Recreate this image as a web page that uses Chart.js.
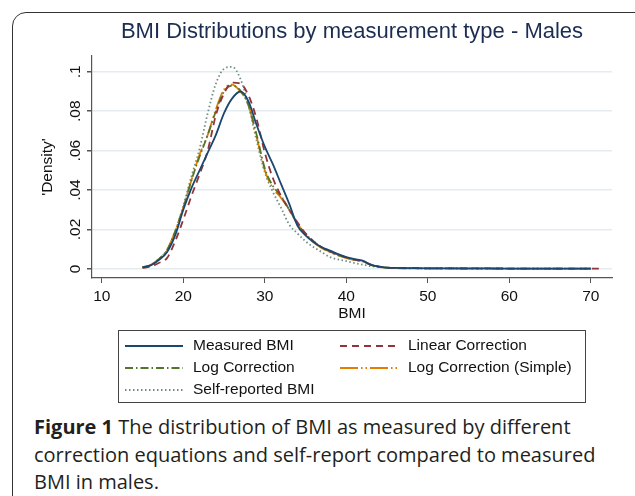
<!DOCTYPE html>
<html>
<head>
<meta charset="utf-8">
<script src="https://cdn.jsdelivr.net/npm/chart.js@4.4.1/dist/chart.umd.min.js"></script>
<style>
  html, body { margin: 0; padding: 0; background: #fff; }
  body { width: 635px; height: 496px; position: relative; overflow: hidden; }
  .frame { position: absolute; left: 12px; top: 12px; width: 700px; height: 600px; border: 1.5px solid #333; border-radius: 14px; }
  #chart { position: absolute; left: 0; top: 0; }
  .caption { position: absolute; left: 34px; top: 413px; white-space: nowrap; font-family: 'Open Sans', sans-serif; font-size: 20px; font-weight: 500; line-height: 27.5px; color: #231f20; }
  .caption b { font-weight: 700; }
</style>
</head>
<body>
<div class="frame"></div>
<canvas id="chart" width="635" height="410"></canvas>
<div class="caption"><b>Figure 1</b> The distribution of BMI as measured by different<br>correction equations and self-report compared to measured<br>BMI in males.</div>
<script>
// BMI grid the densities were read at
const bmi = [15, 16, 17, 18, 19, 20, 21, 22, 23, 24, 25, 26, 27, 28, 29, 30, 31, 32, 33, 34, 35, 36, 37, 38, 39, 40,
             41, 42, 43, 44, 45, 46, 48, 50, 55, 60, 65, 70, 71];

const measuredBMI = [0.0008, 0.0018, 0.0045, 0.0085, 0.017, 0.030, 0.041, 0.050, 0.059, 0.068, 0.079, 0.0865, 0.090, 0.085, 0.073, 0.062,
                     0.053, 0.043, 0.033, 0.022, 0.017, 0.0135, 0.011, 0.0093, 0.0075, 0.006, 0.005, 0.0042, 0.0022, 0.0012, 0.0007, 0.0005,
                     0.0004, 0.0003, 0.0003, 0.0002, 0.0002, 0.0002, null];
const linearCorr = [0.0005, 0.0012, 0.003, 0.0055, 0.014, 0.025, 0.037, 0.048, 0.060, 0.078, 0.089, 0.0945, 0.094, 0.088, 0.076, 0.059,
                    0.046, 0.037, 0.030, 0.0237, 0.018, 0.014, 0.011, 0.0088, 0.0072, 0.0058, 0.0048, 0.004, 0.0022, 0.0012, 0.0007, 0.0005,
                    0.0004, 0.0003, 0.0003, 0.0002, 0.0002, 0.0002, 0.0002];
const logCorr = [0.0008, 0.002, 0.005, 0.0095, 0.019, 0.031, 0.045, 0.057, 0.068, 0.080, 0.090, 0.093, 0.0905, 0.083, 0.068, 0.051,
                 0.042, 0.037, 0.030, 0.023, 0.0178, 0.0138, 0.0108, 0.0087, 0.007, 0.0057, 0.0046, 0.0039, 0.0021, 0.0011, 0.0006, 0.0004,
                 0.0003, 0.0003, 0.0002, 0.0002, 0.0002, 0.0002, null];
const logCorrSimple = [0.0008, 0.002, 0.005, 0.0095, 0.019, 0.031, 0.045, 0.058, 0.068, 0.081, 0.091, 0.0935, 0.090, 0.083, 0.067, 0.050,
                       0.041, 0.036, 0.030, 0.023, 0.0175, 0.0135, 0.0105, 0.0085, 0.0068, 0.0055, 0.0045, 0.0038, 0.002, 0.0011, 0.0006, 0.0004,
                       0.0003, 0.0003, 0.0002, 0.0002, 0.0002, 0.0002, null];
const selfReported = [0.0008, 0.002, 0.005, 0.0095, 0.019, 0.032, 0.047, 0.061, 0.079, 0.094, 0.1015, 0.1025, 0.0965, 0.083, 0.065, 0.049,
                      0.039, 0.031, 0.0225, 0.018, 0.014, 0.011, 0.0085, 0.006, 0.0048, 0.004, 0.003, 0.0022, 0.0014, 0.0009, 0.0006, 0.0005,
                      0.0004, 0.0003, 0.0002, 0.0002, 0.0002, 0.0002, null];

const xTicks = [10, 20, 30, 40, 50, 60, 70];
const yTicks = [0, 0.02, 0.04, 0.06, 0.08, 0.1];

const pts = arr => bmi.map((x, i) => ({ x: x, y: arr[i] }));

// legend drawn as a boxed 2-column key, like the stata one
const boxLegend = {
    id: 'boxLegend',
    afterDraw(chart) {
        const { ctx, chartArea } = chart;
        const left = chartArea.left + 26;
        const top = chartArea.bottom + 52;
        const w = chartArea.right - 27 - left;
        ctx.save();
        ctx.strokeStyle = '#444';
        ctx.lineWidth = 1;
        ctx.strokeRect(Math.round(left) + 0.5, Math.round(top) + 0.5, Math.round(w), 72);
        ctx.font = '15.5px "Liberation Sans", Arial, sans-serif';
        ctx.textBaseline = 'middle';
        ctx.fillStyle = '#111';
        chart.data.datasets.forEach((ds, i) => {
            const col = i % 2, row = Math.floor(i / 2);
            const x0 = left + 7 + col * 215;
            const y = top + 16 + row * 22;
            ctx.save();
            ctx.strokeStyle = ds.borderColor;
            ctx.lineWidth = ds.borderWidth;
            ctx.setLineDash(ds.borderDash || []);
            ctx.beginPath();
            ctx.moveTo(x0, y);
            ctx.lineTo(x0 + 58, y);
            ctx.stroke();
            ctx.restore();
            ctx.fillText(ds.label, x0 + 68, y);
        });
        ctx.restore();
    }
};

Chart.defaults.font.family = '"Liberation Sans", Arial, sans-serif';
Chart.defaults.color = '#111';

const line = (label, arr, color, dash) => ({
    label: label,
    data: pts(arr),
    borderColor: color,
    borderWidth: 1.8,
    borderDash: dash,
    pointRadius: 0,
    cubicInterpolationMode: 'monotone',
    fill: false
});

new Chart(document.getElementById('chart'), {
    type: 'line',
    data: {
        datasets: [
            line('Measured BMI', measuredBMI, '#1a476f', []),
            line('Linear Correction', linearCorr, '#90353b', [7, 5]),
            line('Log Correction', logCorr, '#55752f', [8, 3, 1.5, 3]),
            line('Log Correction (Simple)', logCorrSimple, '#e37e00', [18, 3, 1.5, 3, 1.5, 3]),
            line('Self-reported BMI', selfReported, '#6e8e84', [1.5, 2.5])
        ]
    },
    options: {
        responsive: false,
        animation: false,
        layout: { padding: { left: 0, right: 23, top: 0, bottom: 82 } },
        scales: {
            x: {
                type: 'linear',
                min: 8.8,
                max: 72.6,
                afterFit: s => { s.height = 50; },
                afterBuildTicks: s => { s.ticks = xTicks.map(v => ({ value: v })); },
                grid: { drawOnChartArea: false, tickLength: 5, tickColor: '#555' },
                border: { color: '#555', width: 1.2 },
                ticks: { padding: 4, font: { size: 15.5 }, color: '#111' },
                title: { display: true, text: 'BMI', font: { size: 15.5 }, color: '#111', padding: { top: 0, bottom: 5 } }
            },
            y: {
                min: -0.0046,
                max: 0.108,
                afterFit: s => { s.width = 92; },
                afterBuildTicks: s => { s.ticks = yTicks.map(v => ({ value: v })); },
                grid: { color: '#e3ecef', lineWidth: 1.5, tickLength: 5, tickColor: '#555' },
                border: { color: '#555', width: 1.2 },
                ticks: {
                    minRotation: 90,
                    maxRotation: 90,
                    crossAlign: 'center',
                    padding: 1,
                    font: { size: 15.5 },
                    color: '#111',
                    callback: v => v === 0 ? '0' : String(v).replace(/^0\./, '.')
                },
                title: { display: true, text: "'Density'", font: { size: 15.5 }, color: '#111', padding: { top: 38, bottom: 0 } }
            }
        },
        plugins: {
            legend: { display: false },
            tooltip: { enabled: false },
            title: {
                display: true,
                fullSize: false,
                text: 'BMI Distributions by measurement type - Males',
                color: '#1c2d52',
                font: { size: 22, weight: 'normal' },
                padding: { top: 19, bottom: 10.6 }
            }
        }
    },
    plugins: [boxLegend]
});
</script>
</body>
</html>
